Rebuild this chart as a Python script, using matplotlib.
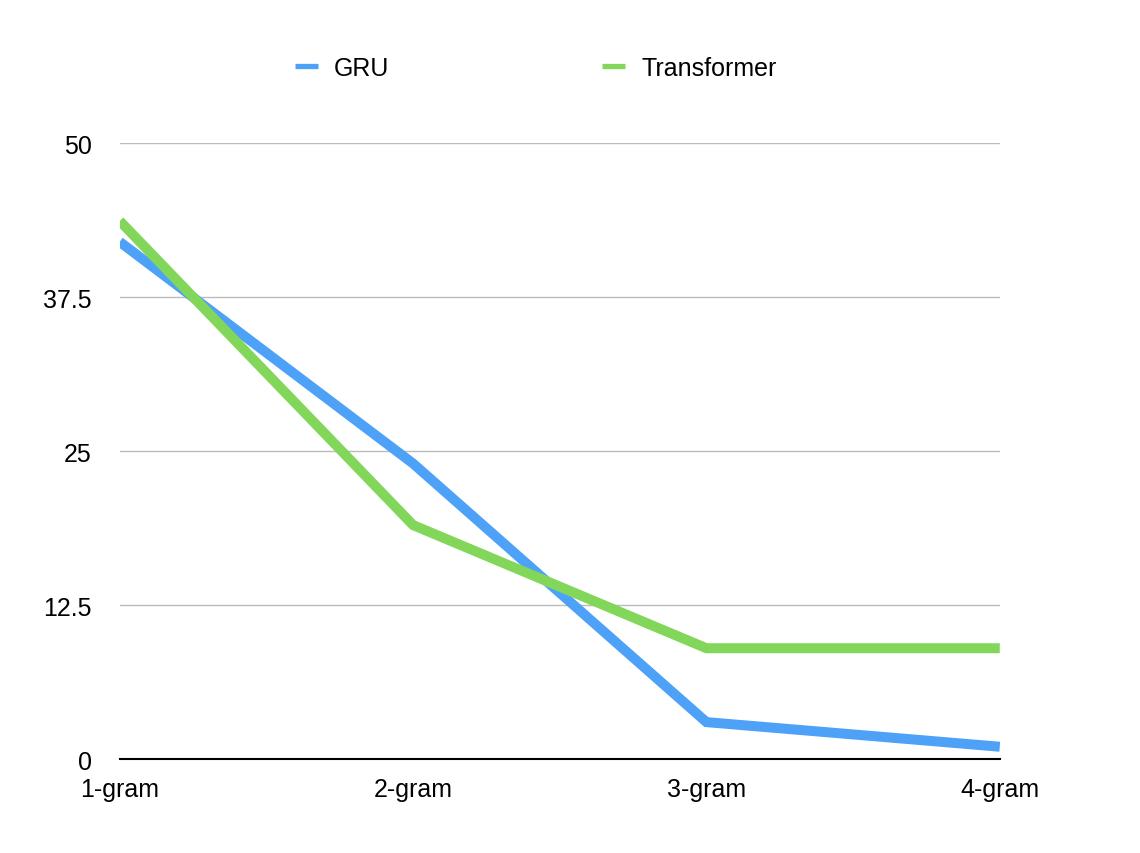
import matplotlib
matplotlib.use('Agg')
import matplotlib.pyplot as plt

# data
categories = ['1-gram', '2-gram', '3-gram', '4-gram']
gru = [42, 24, 3, 1]
transformer = [43.7, 19, 9, 9]
yticks = [0, 12.5, 25, 37.5, 50]
ytick_labels = ['0', '12.5', '25', '37.5', '50']

plt.rcParams['font.family'] = ['Liberation Sans', 'DejaVu Sans']
FS = 18

fig = plt.figure(figsize=(11.4, 8.54), dpi=100)
ax = fig.add_axes([0.105, 0.110, 0.772, 0.721])

x = list(range(len(categories)))
ax.plot(x, gru, color='#4DA2F7', lw=7.2, solid_capstyle='butt',
        solid_joinstyle='miter', label='GRU', zorder=3)
ax.plot(x, transformer, color='#82D65A', lw=7.2, solid_capstyle='butt',
        solid_joinstyle='miter', label='Transformer', zorder=3)

ax.set_xlim(0, 3)
ax.set_ylim(0, 50)
ax.set_xticks(x)
ax.set_xticklabels(categories, fontsize=FS)
ax.set_yticks(yticks)
ax.set_yticklabels(ytick_labels, fontsize=FS)
ax.tick_params(axis='both', length=0)
ax.tick_params(axis='y', pad=20)
ax.tick_params(axis='x', pad=13)
ax.yaxis.grid(True, color='#BBBBBB', lw=1)
ax.set_axisbelow(True)
for s in ['top', 'right', 'left']:
    ax.spines[s].set_visible(False)
ax.spines['bottom'].set_color('black')
ax.spines['bottom'].set_linewidth(1.5)
ax.spines['bottom'].set_zorder(4)

leg = fig.legend(loc='center', bbox_to_anchor=(0.47, 0.919), ncol=2,
                 frameon=False, fontsize=FS, handlelength=0.92,
                 handletextpad=0.64, columnspacing=8.5)
for h in leg.get_lines():
    h.set_linewidth(3.8)

fig.savefig('out.png', dpi=100)
